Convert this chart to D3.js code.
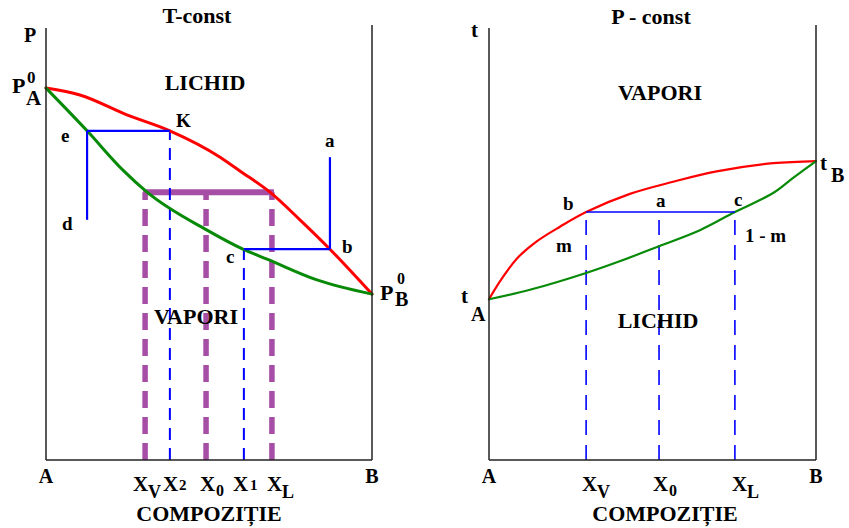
<!DOCTYPE html>
<html>
<head>
<meta charset="utf-8">
<script src="https://cdn.jsdelivr.net/npm/d3@7"></script>
<style>
  html, body { margin: 0; padding: 0; background: #fff; }
  svg { display: block; }
  text { font-family: "Liberation Serif", "Times New Roman", serif; font-weight: bold; fill: #000; }
</style>
</head>
<body>
<svg id="chart" width="849" height="528"></svg>
<script>
// ---- T = const : pressure vs composition ----
const tLiqX = [0, 0.104, 0.248, 0.380, 0.534, 0.595, 0.687, 0.779, 0.871, 1];
const tLiqP = [86.1, 84.5, 79.9, 76.2, 70.1, 66.9, 62.0, 55.6, 48.8, 38.4];
const tVapX = [0, 0.126, 0.236, 0.310, 0.494, 0.604, 0.678, 0.831, 1];
const tVapP = [86.1, 76.2, 67.1, 62.0, 53.2, 48.8, 46.5, 41.7, 38.4];
// compositions marked on the T = const axis
const tComp = { XV: 0.304, X2: 0.380, X0: 0.491, X1: 0.607, XL: 0.693, e: 0.126, a: 0.871 };
const tLevels = { K: 76.2, purple: 62.0, bc: 48.8, aTop: 70.1, dBottom: 55.6 };

// ---- P = const : temperature vs composition ----
const pVapX = [0, 0.034, 0.085, 0.146, 0.217, 0.297, 0.431, 0.563, 0.696, 0.869, 1];
const pVapT = [37.2, 41.4, 46.6, 50.6, 54.0, 57.4, 61.6, 64.4, 66.8, 68.7, 69.2];
const pLiqX = [0, 0.125, 0.297, 0.410, 0.520, 0.645, 0.752, 0.869, 0.930, 1];
const pLiqT = [37.2, 39.4, 43.3, 46.3, 49.5, 53.2, 57.4, 61.8, 65.3, 69.2];
const pComp = { XV: 0.297, X0: 0.520, XL: 0.752 };
const pTie = 57.4;

const svg = d3.select("#chart");

const xL = d3.scaleLinear().domain([0, 1]).range([46, 372]);
const xR = d3.scaleLinear().domain([0, 1]).range([489, 816]);
const y = d3.scaleLinear().domain([0, 100]).range([460, 28]);

const RED = "#ff0000", GREEN = "#078a07", BLUE = "#0000ff", PURPLE = "#a64ea6";

function curve(xs, ys, sx, color, w, interp) {
  const line = d3.line().x(d => sx(d[0])).y(d => y(d[1])).curve(interp || d3.curveMonotoneX);
  svg.append("path")
    .attr("d", line(d3.zip(xs, ys)))
    .attr("fill", "none").attr("stroke", color).attr("stroke-width", w)
    .attr("stroke-linejoin", "round").attr("stroke-linecap", "round");
}
function seg(x1, y1, x2, y2, color, w, dash) {
  const l = svg.append("line")
    .attr("x1", x1).attr("y1", y1).attr("x2", x2).attr("y2", y2)
    .attr("stroke", color).attr("stroke-width", w);
  if (dash) l.attr("stroke-dasharray", dash);
  return l;
}
function label(x, yy, str, size, anchor) {
  return svg.append("text").attr("x", x).attr("y", yy)
    .attr("font-size", size).attr("text-anchor", anchor || "start").text(str);
}
// letter with subscript / superscript drawn as separate pieces
function scripted(x, yy, main, size, sub, subSize, sup, supSize, subDx, subDy, supDx, supDy) {
  label(x, yy, main, size);
  if (sub) label(x + subDx, yy + subDy, sub, subSize);
  if (sup) label(x + supDx, yy + supDy, sup, supSize);
}

// ================= left panel: T-const =================
// purple construction (drawn first, under the curves)
[tComp.XV, tComp.X0, tComp.XL].forEach(c => {
  seg(xL(c), y(0), xL(c), y(tLevels.purple), PURPLE, 5.5, "17 9");
});
seg(xL(tComp.XV) - 2, y(tLevels.purple), xL(tComp.XL) + 2, y(tLevels.purple), PURPLE, 6);

// blue dashed composition lines
seg(xL(tComp.X2), y(0), xL(tComp.X2), y(tLevels.K), BLUE, 2, "12 8");
seg(xL(tComp.X1), y(0), xL(tComp.X1), y(tLevels.bc), BLUE, 2, "12 8");

// curves
curve(tLiqX, tLiqP, xL, RED, 3);
curve(tVapX, tVapP, xL, GREEN, 3);

// blue solid construction lines
seg(xL(tComp.e), y(tLevels.K), xL(tComp.X2), y(tLevels.K), BLUE, 2.2);
seg(xL(tComp.e), y(tLevels.K), xL(tComp.e), y(tLevels.dBottom), BLUE, 2.2);
seg(xL(tComp.a), y(tLevels.aTop), xL(tComp.a), y(tLevels.bc), BLUE, 2.2);
seg(xL(tComp.X1), y(tLevels.bc), xL(tComp.a), y(tLevels.bc), BLUE, 2.2);

// frame
seg(xL(0), y(100), xL(0), y(0), "#222", 1.5);
seg(xL(1), y(100) - 3, xL(1), y(0), "#222", 1.5);
seg(xL(0), y(0), xL(1), y(0), "#222", 1.5);

// texts
label(197, 23, "T-const", 22, "middle");
label(24, 42, "P", 20);
scripted(12, 93, "P", 22, "A", 21, "0", 17, 14, 12, 15, -10);
scripted(380, 300, "P", 22, "B", 20, "0", 16, 15, 6, 17, -16);
label(205, 90, "LICHID", 22, "middle");
label(196, 324, "VAPORI", 22, "middle");
label(176, 127, "K", 19);
label(61, 142, "e", 19);
label(325, 147, "a", 19);
label(62, 230, "d", 19);
label(342, 253, "b", 19);
label(226, 263, "c", 19);
label(xL(0), 483, "A", 20, "middle");
label(xL(1), 483, "B", 20, "middle");
scripted(xL(tComp.XV) - 12, 491, "X", 21, "V", 18, null, 0, 15, 7);
scripted(xL(tComp.X2) - 7, 491, "X", 21, "2", 15, null, 0, 16, -1);
scripted(xL(tComp.X0) - 6, 491, "X", 21, "0", 16, null, 0, 16, 5);
scripted(xL(tComp.X1) - 11, 491, "X", 21, "1", 15, null, 0, 17, -1);
scripted(xL(tComp.XL) - 5, 491, "X", 21, "L", 18, null, 0, 15, 7);
label(209, 521, "COMPOZIȚIE", 22, "middle");

// ================= right panel: P-const =================
const dashR = "15 10";
[pComp.XV, pComp.X0, pComp.XL].forEach(c => {
  seg(xR(c), y(0), xR(c), y(pTie), BLUE, 1.6, dashR);
});
curve(pVapX, pVapT, xR, RED, 2.2, d3.curveCatmullRom.alpha(0.5));
curve(pLiqX, pLiqT, xR, GREEN, 2.2, d3.curveCatmullRom.alpha(0.5));
seg(xR(pComp.XV), y(pTie), xR(pComp.XL), y(pTie), BLUE, 1.6);

// frame
seg(xR(0), y(100), xR(0), y(0), "#222", 1.5);
seg(xR(1), y(100) - 3, xR(1), y(0), "#222", 1.5);
seg(xR(0), y(0), xR(1), y(0), "#222", 1.5);

label(651, 24, "P - const", 22, "middle");
label(471, 37, "t", 21);
label(660, 100, "VAPORI", 22, "middle");
label(658, 328, "LICHID", 22, "middle");
scripted(461, 303, "t", 21, "A", 20, null, 0, 10, 18);
scripted(820, 170, "t", 21, "B", 20, null, 0, 11, 12);
label(563, 210, "b", 19);
label(656, 207, "a", 19);
label(734, 206, "c", 19);
label(556, 252, "m", 19);
label(745, 242, "1 - m", 19);
label(xR(0), 483, "A", 20, "middle");
label(xR(1), 483, "B", 20, "middle");
scripted(xR(pComp.XV) - 4, 491, "X", 21, "V", 18, null, 0, 15, 7);
scripted(xR(pComp.X0) - 6, 491, "X", 21, "0", 16, null, 0, 16, 5);
scripted(xR(pComp.XL) - 3, 491, "X", 21, "L", 18, null, 0, 15, 7);
label(665, 521, "COMPOZIȚIE", 22, "middle");
</script>
</body>
</html>
